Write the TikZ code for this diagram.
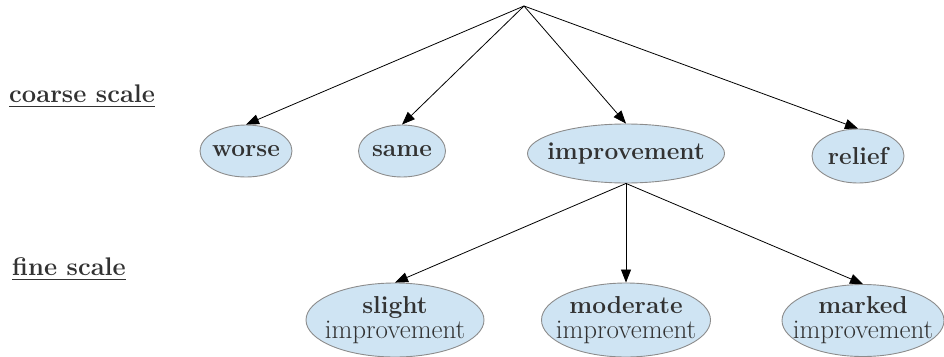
\documentclass[tikz,border=0pt]{standalone}
\usetikzlibrary{shapes.geometric,arrows.meta}
\definecolor{nodefill}{RGB}{207,228,243}
\definecolor{nodedraw}{RGB}{140,140,140}
\definecolor{txtgray}{RGB}{50,50,50}
\newcommand{\subline}[1]{{\fontsize{27}{25}\selectfont\mdseries #1}}
\begin{document}
\begin{tikzpicture}[x=1pt,y=1pt,
  cat/.style={ellipse,draw=nodedraw,fill=nodefill,line width=0.9pt,inner sep=0pt},
  ctext/.style={inner sep=0pt,text=txtgray,align=center,font=\fontsize{24.5}{25}\selectfont\bfseries},
  edge/.style={draw=black,line width=0.8pt,-{Triangle[length=13pt,width=10pt]}},
  lab/.style={anchor=base west,inner sep=0pt,text=txtgray,font=\fontsize{25.5}{26}\selectfont\bfseries},
  uline/.style={draw=txtgray,line width=1.6pt}]
\useasboundingbox (0,0) rectangle (944,-356);
\coordinate (root) at (524,-6);
\node[cat,minimum width=92pt,minimum height=52pt,label={[ctext]center:worse}] (worse) at (246,-151) {};
\node[cat,minimum width=87pt,minimum height=52pt,label={[ctext]center:same}] (same) at (402,-151) {};
\node[cat,minimum width=197pt,minimum height=59pt,label={[ctext]center:improvement}] (impr) at (626,-153.5) {};
\node[cat,minimum width=92pt,minimum height=54pt,label={[ctext]center:relief}] (relief) at (858,-156) {};
\node[cat,minimum width=178pt,minimum height=74pt,label={[ctext]center:{slight\\\subline{improvement}}}] (slight) at (395,-320) {};
\node[cat,minimum width=169pt,minimum height=74pt,label={[ctext]center:{moderate\\\subline{improvement}}}] (moderate) at (626,-320) {};
\node[cat,minimum width=162pt,minimum height=72pt,label={[ctext]center:{marked\\\subline{improvement}}}] (marked) at (863,-320.5) {};
\draw[edge] (root) -- (worse.north);
\draw[edge] (root) -- (same.north);
\draw[edge] (root) -- (impr.north);
\draw[edge] (root) -- (relief.north);
\draw[edge] (impr.south) -- (slight.north);
\draw[edge] (impr.south) -- (moderate.north);
\draw[edge] (impr.south) -- (marked.north);
\node[lab] (coarse) at (9,-102) {coarse\ scale};
\node[lab] (fine) at (12,-275) {fine\ scale};
\draw[uline] ([yshift=-4.5pt]coarse.base west) -- ([yshift=-4.5pt]coarse.base east);
\draw[uline] ([yshift=-4.5pt]fine.base west) -- ([yshift=-4.5pt]fine.base east);
\end{tikzpicture}
\end{document}
